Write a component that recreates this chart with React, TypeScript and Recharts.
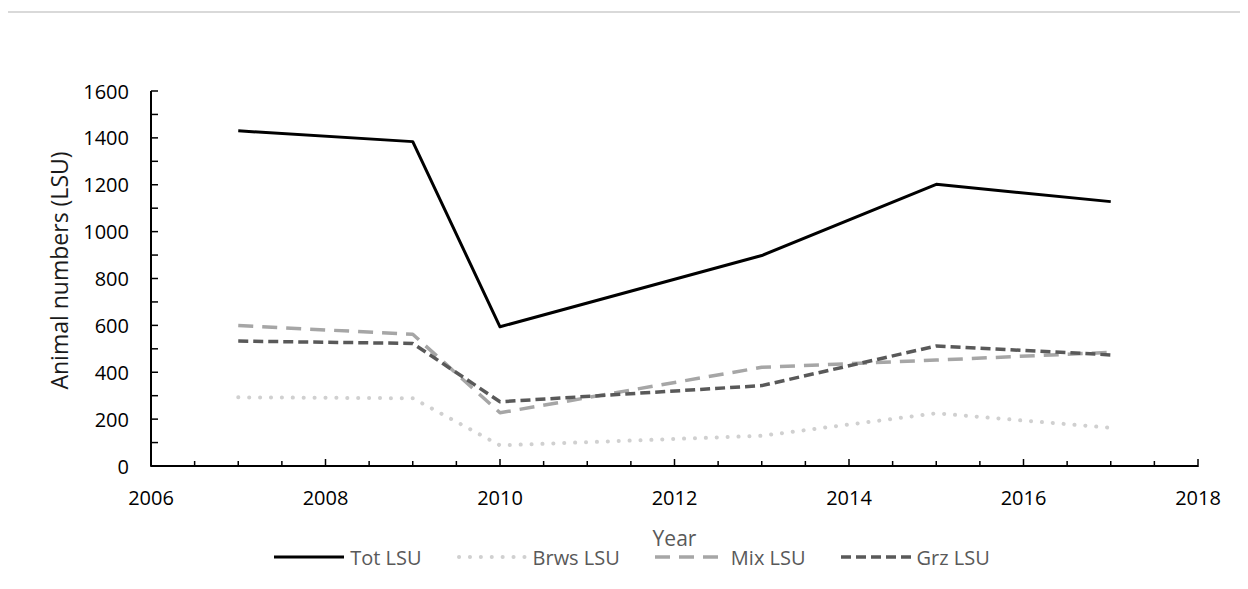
import { LineChart, Line, XAxis, YAxis } from "recharts";

const years = [2007, 2009, 2010, 2013, 2015, 2017];
const totLsu = [1430, 1384, 594, 898, 1202, 1128];
const brwsLsu = [293, 289, 88, 129, 225, 163];
const mixLsu = [599, 562, 227, 421, 452, 485];
const grzLsu = [533, 523, 274, 343, 512, 474];

const xTicks = [
    2006, 2006.5, 2007, 2007.5, 2008, 2008.5, 2009, 2009.5, 2010, 2010.5, 2011, 2011.5, 2012,
    2012.5, 2013, 2013.5, 2014, 2014.5, 2015, 2015.5, 2016, 2016.5, 2017, 2017.5, 2018,
];
const xLabels = [2006, 2008, 2010, 2012, 2014, 2016, 2018];
const yTicks = [0, 100, 200, 300, 400, 500, 600, 700, 800, 900, 1000, 1100, 1200, 1300, 1400, 1500, 1600];
const yLabels = [0, 200, 400, 600, 800, 1000, 1200, 1400, 1600];

const data = years.map((year, i) => ({
    year,
    tot: totLsu[i],
    brws: brwsLsu[i],
    mix: mixLsu[i],
    grz: grzLsu[i],
}));

const series = [
    { key: "tot", name: "Tot LSU", color: "#000000", width: 3, dash: undefined, cap: "butt" },
    { key: "brws", name: "Brws LSU", color: "#d0d0d0", width: 4, dash: "0.1 10.8", cap: "round" },
    { key: "mix", name: "Mix LSU", color: "#a6a6a6", width: 3.5, dash: "15 9", cap: "butt" },
    { key: "grz", name: "Grz LSU", color: "#595959", width: 3.5, dash: "10 5", cap: "butt" },
];

const FONT = "'Open Sans', sans-serif";

function XTick({ x, y, payload }: any) {
    const major = xLabels.includes(payload.value);
    return (
        <g>
            <line x1={x} x2={x} y1={y + (major ? 1 : 0)} y2={y - (major ? 7 : 5)} stroke="#000" strokeWidth={1.5} />
            {major && (
                <text x={x} y={y + 31} textAnchor="middle" dominantBaseline="central" fontSize={20} fontFamily={FONT} fill="#000">
                    {payload.value}
                </text>
            )}
        </g>
    );
}

function YTick({ x, y, payload }: any) {
    const major = yLabels.includes(payload.value);
    return (
        <g>
            <line x1={x} x2={x + 7} y1={y} y2={y} stroke="#000" strokeWidth={1.5} />
            {major && (
                <text x={x - 22} y={y} textAnchor="end" dominantBaseline="central" fontSize={20} fontFamily={FONT} fill="#000">
                    {payload.value}
                </text>
            )}
        </g>
    );
}

function YTitle({ viewBox }: any) {
    const cx = 59;
    const cy = viewBox.y + viewBox.height / 2 - 8;
    return (
        <text
            x={cx}
            y={cy}
            transform={`rotate(-90 ${cx} ${cy})`}
            textAnchor="middle"
            dominantBaseline="central"
            fontSize={23}
            fontFamily={FONT}
            fill="#1a1a1a"
        >
            Animal numbers (LSU)
        </text>
    );
}

function XTitle({ viewBox }: any) {
    return (
        <text
            x={viewBox.x + viewBox.width / 2}
            y={viewBox.y + 72}
            textAnchor="middle"
            dominantBaseline="central"
            fontSize={21}
            fontFamily={FONT}
            fill="#595959"
        >
            Year
        </text>
    );
}

export default function App() {
    return (
        <div style={{ position: "relative", width: 1248, height: 589, margin: -8, overflow: "hidden", background: "#fff" }}>
            <div style={{ position: "absolute", left: 0, top: 0 }}>
                <LineChart width={1248} height={589} data={data} margin={{ top: 91, right: 50, left: 0, bottom: 63 }}>
                    <XAxis
                        dataKey="year"
                        type="number"
                        domain={[2006, 2018]}
                        ticks={xTicks}
                        interval={0}
                        tickSize={0}
                        tickMargin={0}
                        tick={<XTick />}
                        axisLine={{ stroke: "#000", strokeWidth: 2 }}
                        height={60}
                        label={<XTitle />}
                    />
                    <YAxis
                        type="number"
                        domain={[0, 1600]}
                        ticks={yTicks}
                        interval={0}
                        tickSize={0}
                        tickMargin={0}
                        tick={<YTick />}
                        axisLine={{ stroke: "#000", strokeWidth: 2 }}
                        width={151}
                        label={<YTitle />}
                    />
                    {series.map((s) => (
                        <Line
                            key={s.key}
                            dataKey={s.key}
                            name={s.name}
                            type="linear"
                            stroke={s.color}
                            strokeWidth={s.width}
                            strokeDasharray={s.dash}
                            strokeLinecap={s.cap as any}
                            strokeLinejoin="round"
                            dot={false}
                            activeDot={false}
                            isAnimationActive={false}
                        />
                    ))}
                </LineChart>
            </div>
            <div
                style={{
                    position: "absolute",
                    left: 0,
                    width: 1264,
                    top: 543,
                    height: 28,
                    display: "flex",
                    justifyContent: "center",
                    alignItems: "center",
                    gap: 35,
                    fontFamily: FONT,
                    fontSize: 20,
                    color: "#595959",
                }}
            >
                {series.map((s) => (
                    <div key={s.key} style={{ display: "flex", alignItems: "center", gap: 6 }}>
                        <svg width={70} height={12}>
                            <line
                                x1={s.cap === "round" ? 2 : 0}
                                x2={70}
                                y1={6}
                                y2={6}
                                stroke={s.color}
                                strokeWidth={s.width}
                                strokeDasharray={s.dash}
                                strokeLinecap={s.cap as any}
                            />
                        </svg>
                        <span>{s.name}</span>
                    </div>
                ))}
            </div>
            <div
                style={{
                    position: "absolute",
                    left: 6,
                    top: 11,
                    width: 1300,
                    height: 700,
                    borderLeft: "2px solid #d9d9d9",
                    borderTop: "2px solid #d9d9d9",
                    boxSizing: "border-box",
                    pointerEvents: "none",
                }}
            />
        </div>
    );
}
